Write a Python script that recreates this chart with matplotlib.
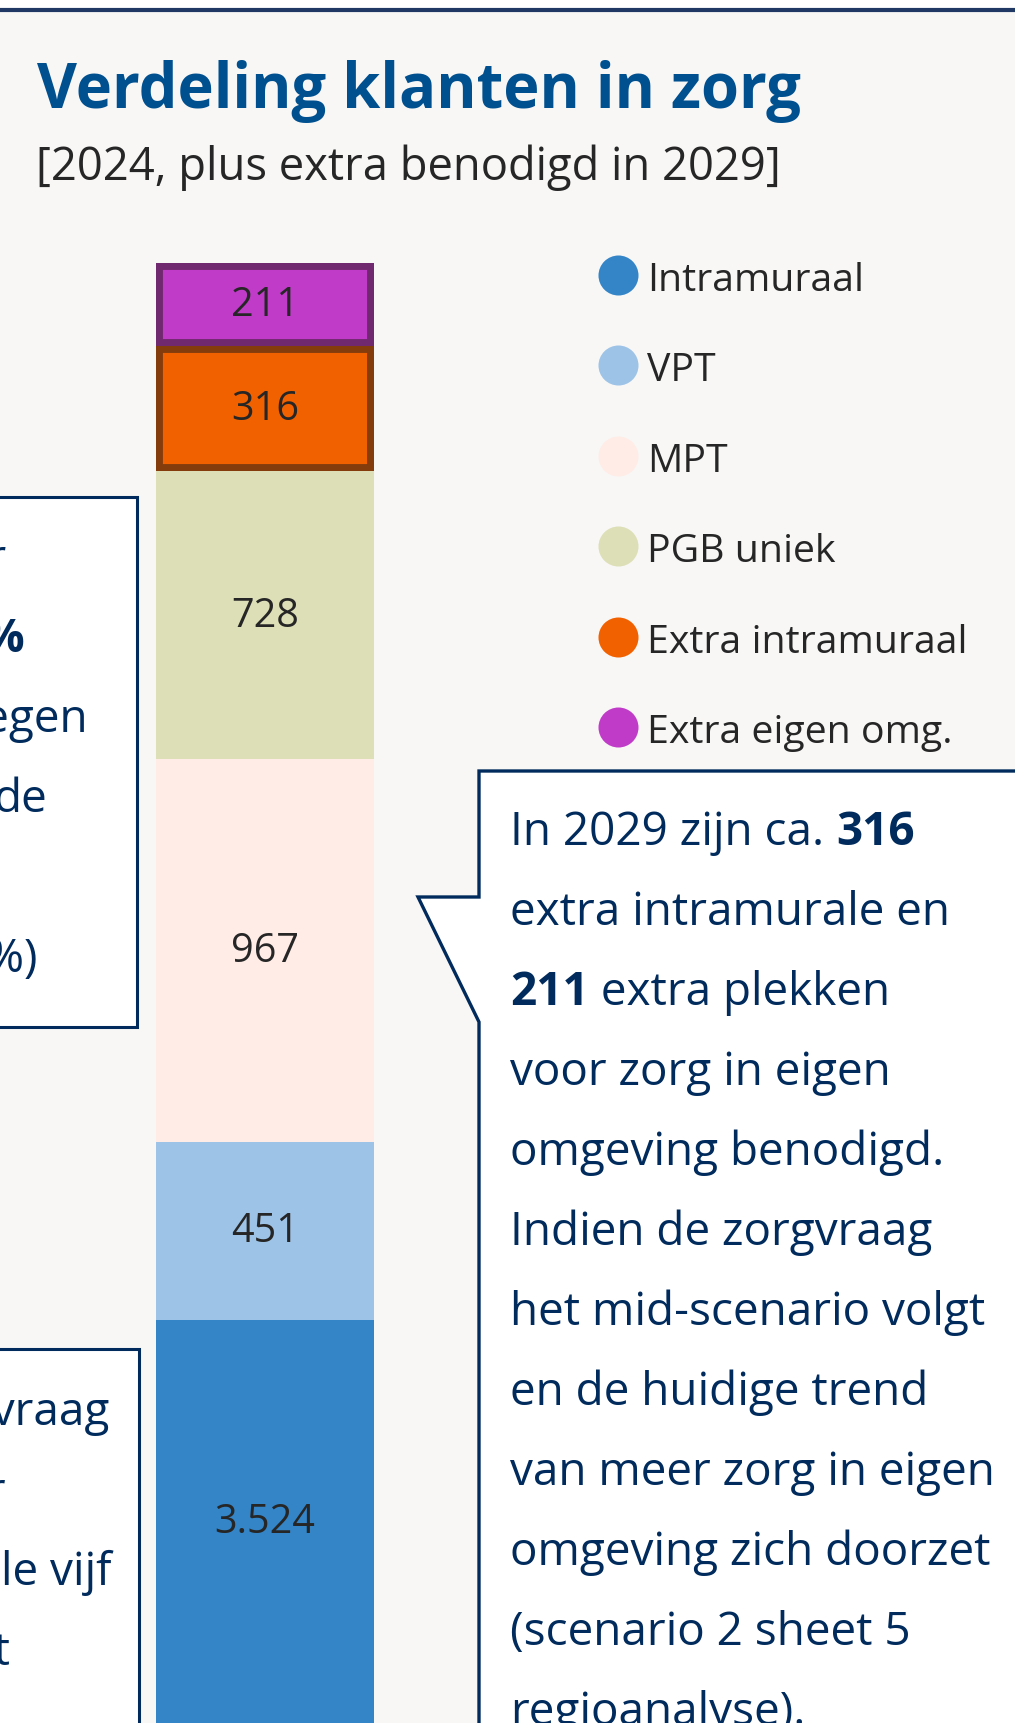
import numpy as np
import matplotlib
matplotlib.use("Agg")
import matplotlib.pyplot as plt
from matplotlib.patches import Rectangle, Polygon

plt.rcParams['font.family'] = ['Open Sans', 'DejaVu Sans']

# stacked from bottom to top
categories = ['Intramuraal', 'VPT', 'MPT', 'PGB uniek', 'Extra intramuraal', 'Extra eigen omg.']
values = [3524, 451, 967, 728, 316, 211]
fills = ['#3485c8', '#9dc3e6', '#ffece6', '#dddfb7', '#f26100', '#c03cc8']
edges = [None, None, None, None, '#843c0c', '#70286e']
y_visible_from = 2505   # bottom of the bar is cut off in the picture

navy = '#002b5c'
W, H = 1015, 1724

fig = plt.figure(figsize=(W / 100, H / 100), dpi=100)
fig.patch.set_facecolor('#f8f7f6')

# overlay axes in pixel coordinates for texts and boxes
ov = fig.add_axes([0, 0, 1, 1])
ov.set_xlim(0, W)
ov.set_ylim(H, 0)
ov.axis('off')

# white strip + dark rule at the top
ov.add_patch(Rectangle((0, 0), W, 9, color='white', lw=0))
ov.plot([0, W], [10.5, 10.5], color='#1f3864', lw=3, solid_capstyle='butt')

ov.text(37, 108, 'Verdeling klanten in zorg', fontsize=44.3, fontweight='bold',
        color='#00508f', va='baseline')
ov.text(36, 180, '[2024, plus extra benodigd in 2029]', fontsize=32.7,
        color='#262626', va='baseline')

# stacked bar
ax = fig.add_axes([156 / W, 0, (374 - 156) / W, (H - 264) / H])
total = sum(values)
ax.set_xlim(-0.5, 0.5)
ax.set_ylim(y_visible_from, total)
ax.axis('off')

bottoms = np.concatenate([[0], np.cumsum(values)[:-1]])
for v, b, fc, ec in zip(values, bottoms, fills, edges):
    bars = ax.bar(0, v, bottom=b, width=1, color=fc,
                  edgecolor=ec if ec else fc, linewidth=10 if ec else 0)
    if ec:
        rect = bars[0]
        rect.set_clip_path(rect)   # keep only the inner half of the border
    lo = max(b, y_visible_from)
    hi = min(b + v, total)
    ax.text(0, (lo + hi) / 2, f'{v:,}'.replace(',', '.'), ha='center',
            va='center', fontsize=28.5, color='#262626')

# legend
for i, (cat, fc) in enumerate(zip(categories, fills)):
    cy = 276 + i * 90.4
    ov.scatter(618, cy, s=830, color=fc, lw=0)
    ov.text(647, cy + 15, cat, fontsize=28.3, color='#262626', va='baseline')

# left boxes (cut off at the left edge)
ov.add_patch(Rectangle((-20, 498), 157, 530, facecolor='white',
                       edgecolor=navy, lw=2.2))
ov.add_patch(Rectangle((-20, 1350), 159, 420, facecolor='white',
                       edgecolor=navy, lw=2.2))

box1 = [('zorg voor', 6, 'normal'), ('48%', 25, 'bold'), ('daartegen', 88, 'normal'),
        ('de', 47, 'normal'), ('', 0, 'normal'), ('(12%)', 38, 'normal')]
for k, (s, xr, fw) in enumerate(box1):
    ov.text(xr, 572 + 80 * k, s, fontsize=33, color=navy, fontweight=fw,
            ha='right', va='baseline')

box2 = [('zorgvraag', 110), ('voor', 6), ('alle vijf', 112), ('stijgt', 11)]
for k, (s, xr) in enumerate(box2):
    ov.text(xr, 1425 + 80 * k, s, fontsize=33, color=navy,
            ha='right', va='baseline')

# callout with pointer
ov.add_patch(Polygon([(479, 772), (1040, 772), (1040, 1760), (479, 1760),
                      (479, 1023), (418, 898), (479, 898)], closed=True,
                     facecolor='white', edgecolor=navy, lw=2.4, joinstyle='miter'))

callout = [
    [('In 2029 zijn ca. ', 'normal'), ('316', 'bold')],
    [('extra intramurale en', 'normal')],
    [('211', 'bold'), (' extra plekken', 'normal')],
    [('voor zorg in eigen', 'normal')],
    [('omgeving benodigd.', 'normal')],
    [('Indien de zorgvraag', 'normal')],
    [('het mid-scenario volgt', 'normal')],
    [('en de huidige trend', 'normal')],
    [('van meer zorg in eigen', 'normal')],
    [('omgeving zich doorzet', 'normal')],
    [('(scenario 2 sheet 5', 'normal')],
    [('regioanalyse).', 'normal')],
]
renderer = fig.canvas.get_renderer()
for k, parts in enumerate(callout):
    x = 510
    for s, fw in parts:
        t = ov.text(x, 845 + 80 * k, s, fontsize=33, color=navy, fontweight=fw,
                    va='baseline')
        bb = t.get_window_extent(renderer)
        x += bb.width

fig.savefig('out.png', dpi=100, facecolor=fig.get_facecolor())
